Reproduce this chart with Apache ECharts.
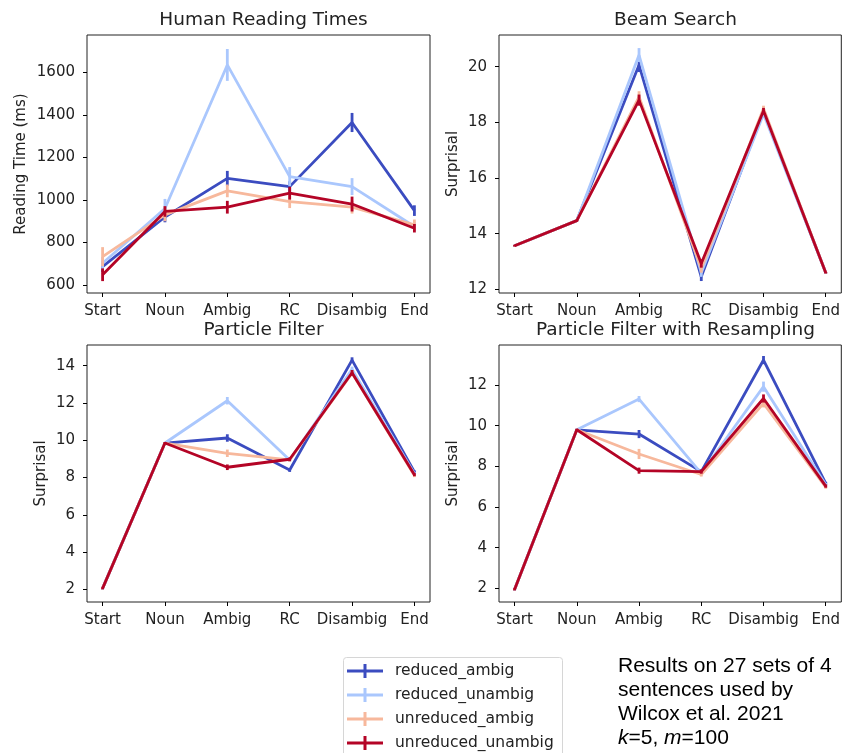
<!DOCTYPE html>
<html>
<head>
<meta charset="utf-8">
<script src="https://cdn.jsdelivr.net/npm/echarts@6/dist/echarts.min.js"></script>
<style>
html,body{margin:0;padding:0;background:#fff;}
#chart{width:843px;height:753px;}
</style>
</head>
<body>
<div id="chart"></div>
<script>
// ---- data ----
const categories = ['Start', 'Noun', 'Ambig', 'RC', 'Disambig', 'End'];
const seriesNames = ['reduced_ambig', 'reduced_unambig', 'unreduced_ambig', 'unreduced_unambig'];
const panelTitles = ['Human Reading Times', 'Beam Search', 'Particle Filter', 'Particle Filter with Resampling'];
const yNames = ['Reading Time (ms)', 'Surprisal', 'Surprisal', 'Surprisal'];

const humanTicks = [600, 800, 1000, 1200, 1400, 1600];
const beamTicks = [12, 14, 16, 18, 20];
const pfTicks = [2, 4, 6, 8, 10, 12, 14];
const pfrTicks = [2, 4, 6, 8, 10, 12];

// Human Reading Times (means, error half-widths)
const humanReducedAmbig = [686, 920, 1102, 1063, 1365, 950];
const humanReducedUnambig = [702, 960, 1636, 1110, 1063, 875];
const humanUnreducedAmbig = [733, 930, 1043, 992, 966, 883];
const humanUnreducedUnambig = [648, 946, 966, 1032, 981, 867];
const humanErrReducedAmbig = [25, 25, 35, 25, 45, 25];
const humanErrReducedUnambig = [30, 45, 75, 45, 40, 20];
const humanErrUnreducedAmbig = [45, 30, 30, 30, 30, 25];
const humanErrUnreducedUnambig = [30, 25, 30, 30, 35, 20];

// Beam Search
const beamReducedAmbig = [13.57, 14.47, 20.06, 12.45, 18.40, 12.60];
const beamReducedUnambig = [13.57, 14.47, 20.42, 12.60, 18.30, 12.60];
const beamUnreducedAmbig = [13.57, 14.47, 18.92, 12.75, 18.50, 12.60];
const beamUnreducedUnambig = [13.57, 14.47, 18.80, 12.93, 18.42, 12.60];
const beamErrReducedAmbig = [0.03, 0.03, 0.25, 0.15, 0.10, 0.03];
const beamErrReducedUnambig = [0.03, 0.03, 0.25, 0.15, 0.10, 0.03];
const beamErrUnreducedAmbig = [0.03, 0.03, 0.20, 0.15, 0.10, 0.03];
const beamErrUnreducedUnambig = [0.03, 0.03, 0.20, 0.15, 0.10, 0.03];

// Particle Filter
const pfReducedAmbig = [2.05, 9.85, 10.12, 8.40, 14.30, 8.30];
const pfReducedUnambig = [2.05, 9.85, 12.12, 8.94, 13.80, 8.20];
const pfUnreducedAmbig = [2.05, 9.85, 9.30, 8.95, 13.60, 8.10];
const pfUnreducedUnambig = [2.05, 9.85, 8.55, 8.98, 13.62, 8.15];
const pfErrReducedAmbig = [0.05, 0.05, 0.20, 0.10, 0.15, 0.08];
const pfErrReducedUnambig = [0.05, 0.05, 0.20, 0.10, 0.15, 0.08];
const pfErrUnreducedAmbig = [0.05, 0.05, 0.20, 0.10, 0.15, 0.08];
const pfErrUnreducedUnambig = [0.05, 0.05, 0.15, 0.10, 0.15, 0.08];

// Particle Filter with Resampling
const pfrReducedAmbig = [1.95, 9.80, 9.59, 7.74, 13.23, 7.16];
const pfrReducedUnambig = [1.95, 9.80, 11.31, 7.66, 11.92, 7.10];
const pfrUnreducedAmbig = [1.95, 9.80, 8.61, 7.60, 11.10, 6.98];
const pfrUnreducedUnambig = [1.95, 9.80, 7.79, 7.74, 11.34, 7.03];
const pfrErrReducedAmbig = [0.05, 0.05, 0.20, 0.10, 0.20, 0.08];
const pfrErrReducedUnambig = [0.05, 0.05, 0.15, 0.10, 0.25, 0.08];
const pfrErrUnreducedAmbig = [0.05, 0.05, 0.25, 0.10, 0.20, 0.08];
const pfrErrUnreducedUnambig = [0.05, 0.05, 0.15, 0.10, 0.20, 0.08];

const noteLines = ['Results on 27 sets of 4', 'sentences used by', 'Wilcox et al. 2021'];

// ---- assembly ----
const panelMeans = [
  [humanReducedAmbig, humanReducedUnambig, humanUnreducedAmbig, humanUnreducedUnambig],
  [beamReducedAmbig, beamReducedUnambig, beamUnreducedAmbig, beamUnreducedUnambig],
  [pfReducedAmbig, pfReducedUnambig, pfUnreducedAmbig, pfUnreducedUnambig],
  [pfrReducedAmbig, pfrReducedUnambig, pfrUnreducedAmbig, pfrUnreducedUnambig]
];
const panelErrs = [
  [humanErrReducedAmbig, humanErrReducedUnambig, humanErrUnreducedAmbig, humanErrUnreducedUnambig],
  [beamErrReducedAmbig, beamErrReducedUnambig, beamErrUnreducedAmbig, beamErrUnreducedUnambig],
  [pfErrReducedAmbig, pfErrReducedUnambig, pfErrUnreducedAmbig, pfErrUnreducedUnambig],
  [pfrErrReducedAmbig, pfrErrReducedUnambig, pfrErrUnreducedAmbig, pfrErrUnreducedUnambig]
];
const panelTicks = [humanTicks, beamTicks, pfTicks, pfrTicks];
const yRanges = [[562, 1777], [11.87, 21.14], [1.32, 15.11], [1.33, 13.97]];
const colors = ['#3b4cc0', '#aac7fd', '#f7b89c', '#b40426'];

const grids = [
  {left: 87, top: 35, width: 343, height: 258},
  {left: 499, top: 35, width: 343, height: 258},
  {left: 87, top: 345, width: 343, height: 257},
  {left: 499, top: 345, width: 343, height: 257}
];
const nameGaps = [58, 38, 38, 38];
const font = 'DejaVu Sans';
const xIdx = categories.map((c, i) => i);

const xAxes = grids.map((g, i) => ({
  type: 'value', gridIndex: i, min: -0.25, max: categories.length - 0.75,
  axisLine: {show: false, onZero: false},
  splitLine: {show: false},
  axisTick: {show: true, customValues: xIdx, length: 4, lineStyle: {color: '#000', width: 1}},
  axisLabel: {customValues: xIdx, formatter: v => categories[Math.round(v)] || '', fontFamily: font, fontSize: 15, color: '#222', margin: 11}
}));
const yAxes = grids.map((g, i) => ({
  type: 'value', gridIndex: i, min: yRanges[i][0], max: yRanges[i][1],
  name: yNames[i], nameLocation: 'middle', nameGap: nameGaps[i],
  nameTextStyle: {fontFamily: font, fontSize: 15, color: '#222'},
  axisLine: {show: false, onZero: false},
  splitLine: {show: false},
  axisTick: {show: true, customValues: panelTicks[i], length: 4, lineStyle: {color: '#000', width: 1}},
  axisLabel: {customValues: panelTicks[i], formatter: v => String(v), fontFamily: font, fontSize: 15, color: '#222', margin: 12}
}));

const series = [];
for (let p = 0; p < 4; p++) {
  for (let s = 0; s < 4; s++) {
    const means = panelMeans[p][s];
    const errs = panelErrs[p][s];
    series.push({
      type: 'line', name: seriesNames[s], xAxisIndex: p, yAxisIndex: p,
      data: means.map((v, i) => [i, v]),
      showSymbol: false, symbol: 'none', silent: true, z: 2 + s * 2,
      lineStyle: {color: colors[s], width: 2.8},
      itemStyle: {color: colors[s]},
      animation: false
    });
    series.push({
      type: 'custom', name: seriesNames[s], xAxisIndex: p, yAxisIndex: p,
      z: 3 + s * 2, silent: true, animation: false,
      itemStyle: {color: colors[s]},
      data: means.map((v, i) => [i, v - errs[i], v + errs[i]]),
      renderItem: function (params, api) {
        const a = api.coord([api.value(0), api.value(1)]);
        const b = api.coord([api.value(0), api.value(2)]);
        return {type: 'line', shape: {x1: a[0], y1: a[1], x2: b[0], y2: b[1]},
          style: {stroke: colors[s], lineWidth: 2.8}};
      }
    });
  }
}

const titles = grids.map((g, i) => ({
  text: panelTitles[i], left: g.left + g.width / 2, textAlign: 'center',
  top: g.top - 29,
  textStyle: {fontFamily: font, fontSize: 18.5, fontWeight: 'normal', color: '#222'}
}));

const crossIcon = 'path://M0,5.5 H16.5 V0 H19.5 V5.5 H36 V8.5 H19.5 V14 H16.5 V8.5 H0 Z';

const option = {
  backgroundColor: '#fff',
  animation: false,
  title: titles,
  grid: grids.map(g => Object.assign({show: true, borderColor: '#222', borderWidth: 1, backgroundColor: 'transparent', containLabel: false}, g)),
  xAxis: xAxes,
  yAxis: yAxes,
  legend: {
    data: seriesNames.map(n => ({name: n, icon: crossIcon})),
    orient: 'vertical', left: 343, top: 656, height: 97,
    itemWidth: 36, itemHeight: 14, itemGap: 8,
    padding: [7, 4, 0, 4],
    borderWidth: 0,
    selectedMode: false,
    textStyle: {fontFamily: font, fontSize: 15.5, lineHeight: 14, color: '#222', padding: [0, 0, 0, 7]}
  },
  graphic: [{
    type: 'rect', left: 343, top: 657, z: -1,
    shape: {width: 219, height: 120, r: 3},
    style: {fill: '#fff', stroke: '#d6d6d6', lineWidth: 1}
  }, {
    type: 'text', left: 618, top: 654,
    style: {
      text: noteLines.join('\n') + '\n{i|k}=5, {i|m}=100',
      fontFamily: 'Liberation Sans', fontSize: 21, lineHeight: 24, fill: '#000',
      rich: {i: {fontStyle: 'italic', fontFamily: 'Liberation Sans', fontSize: 21, lineHeight: 24, fill: '#000'}}
    }
  }],
  series: series
};

const chart = echarts.init(document.getElementById('chart'), null, {renderer: 'canvas'});
chart.setOption(option);
</script>
</body>
</html>
